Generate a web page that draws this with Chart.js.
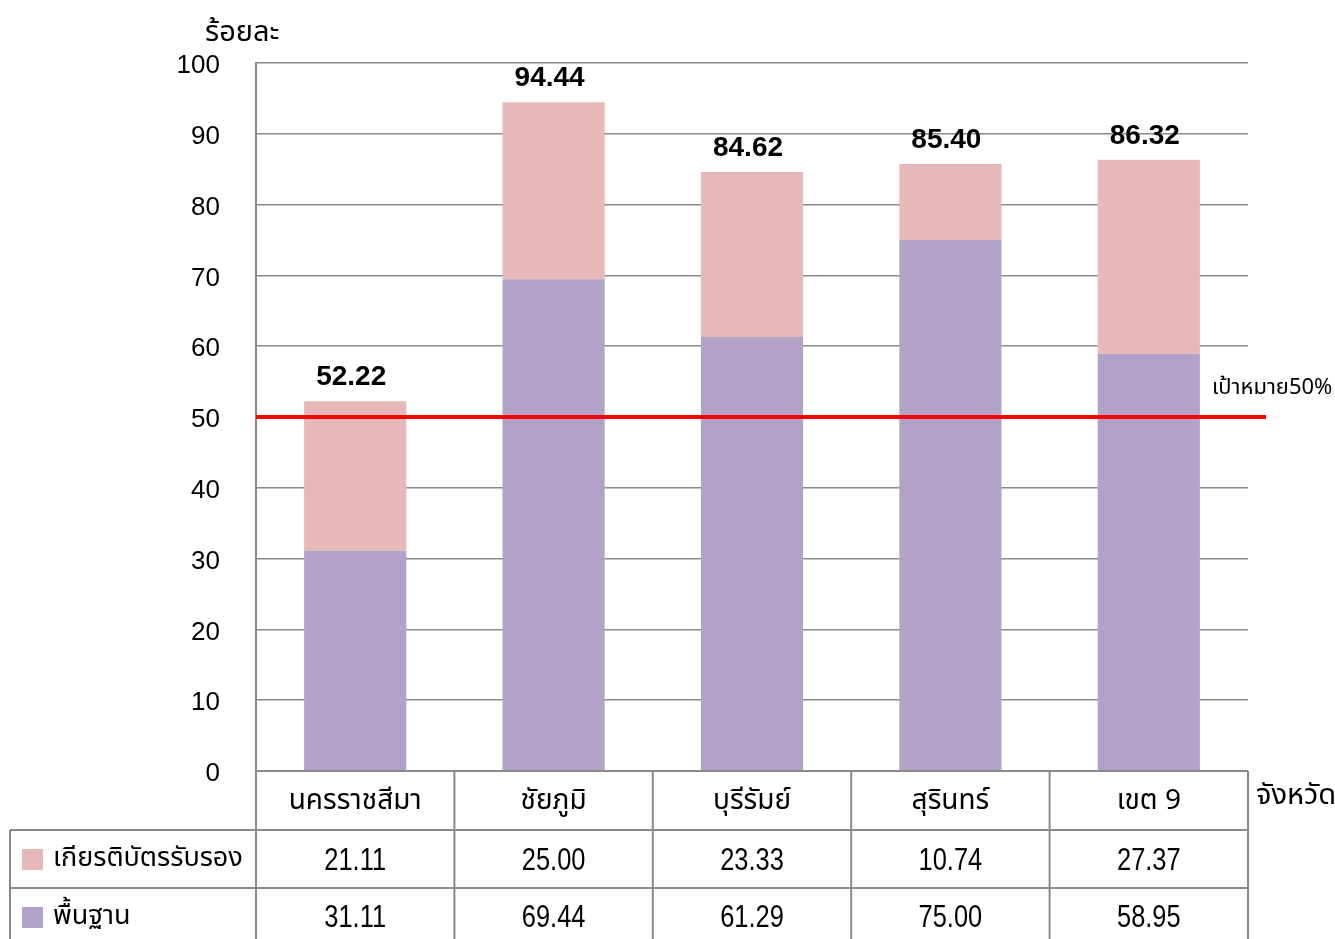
<!DOCTYPE html>
<html>
<head>
<meta charset="utf-8">
<script src="https://cdn.jsdelivr.net/npm/chart.js@4/dist/chart.umd.min.js"></script>
<style>
  html, body { margin: 0; padding: 0; background: #fff; }
  #wrap { width: 1335px; height: 939px; position: relative; }
</style>
</head>
<body>
<div id="wrap"><canvas id="chart"></canvas></div>
<script>
/* === DATA === */
const provinces = ["นครราชสีมา", "ชัยภูมิ", "บุรีรัมย์", "สุรินทร์", "เขต 9"];
const basicValues = [31.11, 69.44, 61.29, 75.00, 58.95];       // พื้นฐาน
const certValues = [21.11, 25.00, 23.33, 10.74, 27.37];        // เกียรติบัตรรับรอง
const totalLabels = [52.22, 94.44, 84.62, 85.40, 86.32];
const yTicks = [0, 10, 20, 30, 40, 50, 60, 70, 80, 90, 100];
const targetValue = 50;
const targetLabel = "เป้าหมาย50%";

const seriesNames = ["เกียรติบัตรรับรอง", "พื้นฐาน"];
const colorBasic = "#b3a2c7";
const colorCert = "#e6b9b8";
const gridColor = "#8a8a8a";

const thaiFont = '"Noto Sans Thai", "Loma", "Garuda", "Liberation Sans", sans-serif';
const numFont = '"Liberation Sans", sans-serif';

/* === PLUGINS === */
// เส้นเป้าหมาย 50%
const targetLine = {
  id: "targetLine",
  afterDatasetsDraw(chart) {
    const { ctx, chartArea, scales } = chart;
    const y = scales.y.getPixelForValue(targetValue);
    ctx.save();
    ctx.strokeStyle = "#ff0000";
    ctx.lineWidth = 4;
    ctx.beginPath();
    ctx.moveTo(chartArea.left, y);
    ctx.lineTo(chartArea.right + 18, y);
    ctx.stroke();
    ctx.fillStyle = "#000";
    ctx.font = "22px " + thaiFont;
    ctx.textAlign = "left";
    ctx.textBaseline = "middle";
    ctx.fillText(targetLabel, chartArea.right - 36, y - 27);
    ctx.restore();
  }
};

// ตัวเลขรวมบนแท่ง
const totalText = {
  id: "totalText",
  afterDatasetsDraw(chart) {
    const { ctx } = chart;
    const meta = chart.getDatasetMeta(1);
    ctx.save();
    ctx.fillStyle = "#000";
    ctx.font = "bold 28px " + numFont;
    ctx.textAlign = "center";
    ctx.textBaseline = "middle";
    meta.data.forEach((bar, i) => {
      ctx.fillText(totalLabels[i].toFixed(2), bar.x - 4, bar.y - 24);
    });
    ctx.restore();
  }
};

// เขียนตัวเลขแบบแคบ
function narrowText(ctx, text, cx, cy) {
  ctx.save();
  ctx.translate(cx, cy);
  ctx.scale(0.82, 1);
  ctx.fillText(text, 0, 0);
  ctx.restore();
}

// ตารางข้อมูลใต้กราฟ + ชื่อแกน
const dataTable = {
  id: "dataTable",
  afterDraw(chart) {
    const { ctx, chartArea, scales } = chart;
    const x = scales.x;
    const n = provinces.length;
    const colW = (chartArea.right - chartArea.left) / n;
    const top = chartArea.bottom;
    const rows = [top, top + 59, top + 117, top + 175];
    const legendLeft = 10;

    ctx.save();
    ctx.strokeStyle = gridColor;
    ctx.lineWidth = 2;
    ctx.beginPath();
    // เส้นแนวนอน
    ctx.moveTo(chartArea.left, rows[0]); ctx.lineTo(chartArea.right, rows[0]);
    ctx.moveTo(legendLeft, rows[1]); ctx.lineTo(chartArea.right, rows[1]);
    ctx.moveTo(legendLeft, rows[2]); ctx.lineTo(chartArea.right, rows[2]);
    // เส้นแนวตั้ง
    ctx.moveTo(legendLeft, rows[1]); ctx.lineTo(legendLeft, rows[3]);
    for (let i = 0; i <= n; i++) {
      const cx = chartArea.left + colW * i;
      ctx.moveTo(cx, rows[0]); ctx.lineTo(cx, rows[3]);
    }
    ctx.stroke();

    ctx.fillStyle = "#000";
    ctx.textAlign = "center";
    ctx.textBaseline = "middle";
    provinces.forEach((p, i) => {
      const cx = x.getPixelForValue(i);
      ctx.font = "28px " + thaiFont;
      ctx.fillText(p, cx, rows[0] + 32);
      ctx.font = "31px " + numFont;
      narrowText(ctx, certValues[i].toFixed(2), cx, rows[1] + 31);
      narrowText(ctx, basicValues[i].toFixed(2), cx, rows[2] + 30);
    });

    // legend ในตาราง
    const legendColors = [colorCert, colorBasic];
    seriesNames.forEach((name, r) => {
      const cy = rows[r + 1] + 29;
      ctx.fillStyle = legendColors[r];
      ctx.fillRect(22, cy - 10, 21, 21);
      ctx.fillStyle = "#000";
      ctx.textAlign = "left";
      ctx.font = "27px " + thaiFont;
      ctx.fillText(name, 53, cy + 2);
    });

    // ชื่อแกน
    ctx.font = "29px " + thaiFont;
    ctx.textAlign = "left";
    ctx.fillText("ร้อยละ", 205, 35);
    ctx.fillText("จังหวัด", chartArea.right + 8, rows[0] + 27);
    ctx.restore();
  }
};

/* === CHART === */
const ctx = document.getElementById("chart").getContext("2d");
new Chart(ctx, {
  type: "bar",
  data: {
    labels: provinces,
    datasets: [
      { label: seriesNames[1], data: basicValues, backgroundColor: colorBasic, barPercentage: 0.515, categoryPercentage: 1 },
      { label: seriesNames[0], data: certValues, backgroundColor: colorCert, barPercentage: 0.515, categoryPercentage: 1 }
    ]
  },
  options: {
    responsive: true,
    maintainAspectRatio: false,
    animation: false,
    layout: { padding: { top: 63, right: 87, left: 0, bottom: 0 } },
    plugins: { legend: { display: false }, tooltip: { enabled: false } },
    scales: {
      x: {
        stacked: true,
        grid: { display: false },
        border: { display: false },
        ticks: { display: false },
        afterFit: s => { s.height = 168; }
      },
      y: {
        stacked: true,
        min: 0,
        max: 100,
        afterFit: s => { s.width = 256; },
        afterBuildTicks: s => { s.ticks = yTicks.map(v => ({ value: v })); },
        grid: { color: gridColor, lineWidth: 1.5, drawTicks: false },
        border: { display: true, color: gridColor, width: 2 },
        ticks: {
          padding: 36,
          labelOffset: 3,
          color: "#000",
          font: { family: numFont, size: 26 }
        }
      }
    }
  },
  plugins: [targetLine, totalText, dataTable]
});
</script>
</body>
</html>
